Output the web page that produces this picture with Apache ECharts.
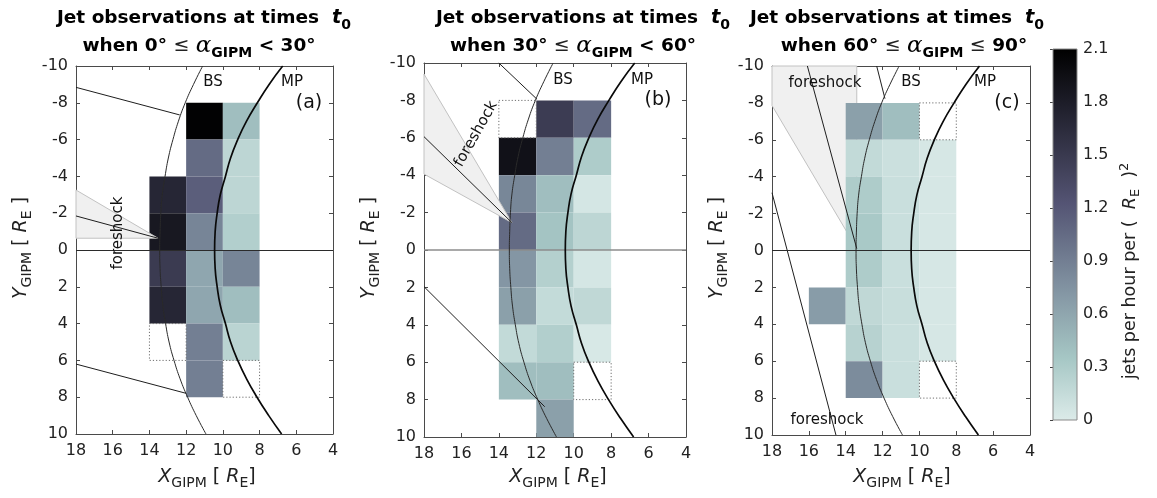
<!DOCTYPE html>
<html>
<head>
<meta charset="utf-8">
<script src="https://cdn.jsdelivr.net/npm/echarts@6/dist/echarts.min.js"></script>
<style>
  html, body { margin: 0; padding: 0; background: #fff; }
  #chart { width: 1157px; height: 498px; }
</style>
</head>
<body>
<div id="chart"></div>
<script>
// ---- Axes ----
const X_MIN = 4, X_MAX = 18, Y_MIN = -10, Y_MAX = 10, BIN = 2;
const CBAR_MIN = 0, CBAR_MAX = 2.1, CBAR_STEP = 0.3;

// ---- Jet rate per 2x2 RE bin: [bin lower X, bin lower Y, jets per hour per RE^2] ----
const cellsA = [
  [12, -4, 1.70], [12, -2, 1.85], [12, 0, 1.48], [12, 2, 1.70],
  [10, -8, 2.08], [10, -6, 1.05], [10, -4, 1.15], [10, -2, 0.85],
  [10, 0, 0.60], [10, 2, 0.60], [10, 4, 0.90], [10, 6, 0.90],
  [8, -8, 0.42], [8, -6, 0.20], [8, -4, 0.20], [8, -2, 0.27],
  [8, 0, 0.85], [8, 2, 0.42], [8, 4, 0.22]
];
const cellsB = [
  [12, -6, 1.92], [12, -4, 0.84], [12, -2, 1.05], [12, 0, 0.72],
  [12, 2, 0.65], [12, 4, 0.17], [12, 6, 0.42],
  [10, -8, 1.47], [10, -6, 0.90], [10, -4, 0.42], [10, -2, 0.37],
  [10, 0, 0.26], [10, 2, 0.16], [10, 4, 0.27], [10, 6, 0.42], [10, 8, 0.65],
  [8, -8, 1.05], [8, -6, 0.30], [8, -4, 0.05], [8, -2, 0.20],
  [8, 0, 0.05], [8, 2, 0.18], [8, 4, 0.03]
];
const cellsC = [
  [14, 2, 0.68],
  [12, -8, 0.65], [12, -6, 0.17], [12, -4, 0.30], [12, -2, 0.33],
  [12, 0, 0.30], [12, 2, 0.18], [12, 4, 0.24], [12, 6, 0.80],
  [10, -8, 0.42], [10, -6, 0.11], [10, -4, 0.12], [10, -2, 0.12],
  [10, 0, 0.12], [10, 2, 0.13], [10, 4, 0.12], [10, 6, 0.12],
  [8, -6, 0.04], [8, -4, 0.04], [8, -2, 0.04], [8, 0, 0.04],
  [8, 2, 0.04], [8, 4, 0.04]
];
// Bins that were sampled but had no jets: [bin lower X, bin lower Y]
const emptyA = [[12, 4], [8, 6]];
const emptyB = [[12, -8], [8, 6]];
const emptyC = [[8, -8], [8, 6]];

// ---- Model boundaries, [X, Y] in RE ----
const bowShock = [
  [11.10, -10], [11.60, -9], [12.05, -8], [12.42, -7], [12.72, -6], [12.97, -5],
  [13.15, -4], [13.30, -3], [13.38, -2], [13.42, -1], [13.44, 0], [13.42, 1],
  [13.36, 2], [13.27, 3], [13.12, 4], [12.93, 5], [12.66, 6], [12.33, 7],
  [11.92, 8], [11.45, 9], [10.92, 10]
];
const magnetopause = [
  [6.74, -10], [7.48, -9], [8.12, -8], [8.71, -7], [9.19, -6], [9.58, -5],
  [9.86, -4], [10.14, -3], [10.31, -2], [10.42, -1], [10.45, 0], [10.42, 1],
  [10.31, 2], [10.14, 3], [9.86, 4], [9.58, 5], [9.19, 6], [8.71, 7],
  [8.14, 8], [7.50, 9], [6.80, 10]
];

// ---- Foreshock regions and IMF lines touching the bow shock ----
const foreshockA = [[18, -3.26], [13.53, -0.64], [18, -0.64]];
const foreshockB = [[18, -9.41], [13.30, -1.46], [18, -4.06]];
const foreshockC = [[18, -10], [13.40, -10], [13.40, -0.1], [18, -7.86]];
const imfA = [[18, -1.85, 13.53, -0.64], [18, -8.84, 12.35, -7.34], [18, 6.20, 12.00, 7.79]];
const imfB = [[18, -6.06, 13.30, -1.46], [14.0, -10, 11.96, -8.06], [18, 1.96, 11.55, 8.38]];
const imfC = [[16.08, -10, 13.40, -0.1], [12.32, -10, 11.87, -8.23], [18, -3.13, 14.53, 10]];

// ---- Text ----
const angleRanges = [
  ['0°', '<', '30°'],
  ['30°', '<', '60°'],
  ['60°', '≤', '90°']
];
const panelTags = ['(a)', '(b)', '(c)'];

// Reversed bone colour scale, light (0) to black (2.1)
const CMAP = ['#dcebe9', '#c1d9d7', '#a6c7c5', '#96b0b5', '#8699a6', '#758295', '#646b84',
              '#545474', '#43435c', '#323245', '#21212e', '#111117', '#000000'];

const FONT = 'DejaVu Sans';
const AXIS_COLOR = '#4a4a4a';
const TEXT_COLOR = '#222222';

const layout = [
  { grid: { left: 76, top: 66, width: 257, height: 368 },
    title1: 204, title2: 199, xName: 207, yName: 21,
    bs: [213, 82], mp: [292, 82], tag: [309, 103] },
  { grid: { left: 424, top: 63, width: 262, height: 374 },
    title1: 583, title2: 573, xName: 558, yName: 369,
    bs: [563, 80], mp: [642, 80], tag: [658, 100] },
  { grid: { left: 772, top: 66, width: 258, height: 369 },
    title1: 897, title2: 904, xName: 902, yName: 717,
    bs: [911, 82], mp: [985, 82], tag: [1007, 103] }
];

const panels = [
  { cells: cellsA, empty: emptyA, wedge: foreshockA, imf: imfA, wedgeZ: 3, zero: { color: '#2b2b2b', width: 1 } },
  { cells: cellsB, empty: emptyB, wedge: foreshockB, imf: imfB, wedgeZ: 3, zero: { color: '#8c8c8c', width: 1.6 } },
  { cells: cellsC, empty: emptyC, wedge: foreshockC, imf: imfC, wedgeZ: 1, zero: { color: '#2b2b2b', width: 1 } }
];

function binRect(api, x0, y0) {
  const a = api.coord([x0, y0]);
  const b = api.coord([x0 + BIN, y0 + BIN]);
  return {
    x: Math.min(a[0], b[0]), y: Math.min(a[1], b[1]),
    width: Math.abs(a[0] - b[0]), height: Math.abs(a[1] - b[1])
  };
}

const grids = [], xAxes = [], yAxes = [], series = [], cellSeries = [];

function axisBase(gridIndex) {
  return {
    type: 'value', gridIndex,
    splitLine: { show: false },
    axisLine: { show: true, onZero: false, lineStyle: { color: AXIS_COLOR, width: 1 } },
    axisTick: { show: true, inside: true, length: 4, lineStyle: { color: AXIS_COLOR } }
  };
}
const tickLabel = { fontFamily: FONT, fontSize: 16, color: TEXT_COLOR };

panels.forEach((p, i) => {
  grids.push(Object.assign({ containLabel: false }, layout[i].grid));
  xAxes.push(Object.assign(axisBase(i), {
    position: 'bottom', min: X_MIN, max: X_MAX, interval: BIN, inverse: true,
    axisLabel: Object.assign({ margin: 9 }, tickLabel)
  }));
  xAxes.push(Object.assign(axisBase(i), {
    position: 'top', min: X_MIN, max: X_MAX, interval: BIN, inverse: true,
    axisLabel: { show: false }
  }));
  yAxes.push(Object.assign(axisBase(i), {
    position: 'left', min: Y_MIN, max: Y_MAX, interval: BIN, inverse: true,
    axisLabel: Object.assign({ margin: 8 }, tickLabel)
  }));
  yAxes.push(Object.assign(axisBase(i), {
    position: 'right', min: Y_MIN, max: Y_MAX, interval: BIN, inverse: true,
    axisLabel: { show: false }
  }));
  const ax = { xAxisIndex: 2 * i, yAxisIndex: 2 * i };

  // binned jet rates
  cellSeries.push(series.length);
  series.push(Object.assign({
    type: 'custom', name: 'rate' + i, z: 2, silent: true,
    data: p.cells, encode: { x: 0, y: 1 },
    renderItem: (params, api) => ({
      type: 'rect', shape: binRect(api, api.value(0), api.value(1)),
      style: { fill: api.visual('color') }
    })
  }, ax));

  // sampled bins without jets
  series.push(Object.assign({
    type: 'custom', z: 2, silent: true,
    data: p.empty, encode: { x: 0, y: 1 },
    renderItem: (params, api) => ({
      type: 'rect', shape: binRect(api, api.value(0), api.value(1)),
      style: { fill: null, stroke: '#6e6e6e', lineWidth: 1, lineDash: [1.2, 2] }
    })
  }, ax));

  // foreshock region
  series.push(Object.assign({
    type: 'custom', z: p.wedgeZ, silent: true,
    data: [p.wedge[0]], encode: { x: 0, y: 1 },
    renderItem: (params, api) => ({
      type: 'polygon',
      shape: { points: p.wedge.map(pt => api.coord(pt)) },
      style: { fill: '#f0f0f0', stroke: '#c2c2c2', lineWidth: 1 }
    })
  }, ax));

  // IMF lines
  series.push(Object.assign({
    type: 'custom', z: 4, silent: true,
    data: p.imf, encode: { x: [0, 2], y: [1, 3] },
    renderItem: (params, api) => {
      const a = api.coord([api.value(0), api.value(1)]);
      const b = api.coord([api.value(2), api.value(3)]);
      return {
        type: 'line', shape: { x1: a[0], y1: a[1], x2: b[0], y2: b[1] },
        style: { stroke: '#1e1e1e', lineWidth: 1 }
      };
    }
  }, ax));

  // bow shock, with the Y = 0 reference line
  series.push(Object.assign({
    type: 'line', z: 5, silent: true, data: bowShock,
    showSymbol: false, symbol: 'none', smooth: true,
    lineStyle: { color: '#2a2a2a', width: 1 },
    markLine: {
      silent: true, symbol: 'none', label: { show: false },
      lineStyle: { color: p.zero.color, width: p.zero.width, type: 'solid' },
      data: [{ yAxis: 0 }]
    }
  }, ax));

  // magnetopause
  series.push(Object.assign({
    type: 'line', z: 5, silent: true, data: magnetopause,
    showSymbol: false, symbol: 'none', smooth: true,
    lineStyle: { color: '#0a0a0a', width: 1.7 }
  }, ax));
});

// ---- colour bar ----
const cbGrid = grids.length;
grids.push({ left: 1053, top: 49, width: 24, height: 371, containLabel: false });
xAxes.push({ type: 'value', gridIndex: cbGrid, min: 0, max: 1, show: false });
yAxes.push({
  type: 'value', gridIndex: cbGrid, position: 'right',
  min: CBAR_MIN, max: CBAR_MAX, interval: CBAR_STEP,
  splitLine: { show: false },
  axisLine: { show: false },
  axisTick: { show: true, inside: true, length: 3, lineStyle: { color: '#444' } },
  axisLabel: Object.assign({ margin: 6, formatter: v => String(+v.toFixed(1)) }, tickLabel)
});
series.push({
  type: 'custom', xAxisIndex: 2 * panels.length, yAxisIndex: 2 * panels.length,
  z: 1, silent: true, data: [[0, CBAR_MIN, 1, CBAR_MAX]], encode: { x: [0, 2], y: [1, 3] },
  renderItem: (params, api) => {
    const a = api.coord([api.value(0), api.value(1)]);
    const b = api.coord([api.value(2), api.value(3)]);
    const stops = CMAP.map((c, k) => ({ offset: k / (CMAP.length - 1), color: c }));
    return {
      type: 'rect',
      shape: { x: a[0], y: b[1], width: b[0] - a[0], height: a[1] - b[1] },
      style: {
        fill: new echarts.graphic.LinearGradient(0, 1, 0, 0, stops),
        stroke: '#8a8a8a', lineWidth: 1
      }
    };
  }
});

// ---- text ----
const rich = {
  b:  { fontFamily: FONT, fontWeight: 'bold', fontSize: 18.5, lineHeight: 28, verticalAlign: 'middle', fill: '#000' },
  ti: { fontFamily: FONT, fontWeight: 'bold', fontStyle: 'italic', fontSize: 19.5, lineHeight: 28, verticalAlign: 'middle', fill: '#000' },
  su: { fontFamily: FONT, fontWeight: 'bold', fontSize: 14, verticalAlign: 'bottom', fill: '#000' },
  al: { fontFamily: 'DejaVu Serif', fontStyle: 'italic', fontSize: 23, lineHeight: 28, verticalAlign: 'middle', fill: '#000' },
  le: { fontFamily: FONT, fontSize: 19, lineHeight: 28, verticalAlign: 'middle', fill: '#222' },
  n:  { fontFamily: FONT, fontSize: 19, lineHeight: 26, verticalAlign: 'middle', fill: TEXT_COLOR },
  i:  { fontFamily: FONT, fontStyle: 'italic', fontSize: 19, lineHeight: 26, verticalAlign: 'middle', fill: TEXT_COLOR },
  s:  { fontFamily: FONT, fontSize: 14, verticalAlign: 'bottom', fill: TEXT_COLOR },
  cn: { fontFamily: FONT, fontSize: 17.5, lineHeight: 24, verticalAlign: 'middle', fill: TEXT_COLOR },
  ci: { fontFamily: FONT, fontStyle: 'italic', fontSize: 17.5, lineHeight: 24, verticalAlign: 'middle', fill: TEXT_COLOR },
  cs: { fontFamily: FONT, fontSize: 13, verticalAlign: 'bottom', fill: TEXT_COLOR },
  cp: { fontFamily: FONT, fontSize: 13, verticalAlign: 'top', fill: TEXT_COLOR }
};

function text(x, y, str, extra) {
  return Object.assign({
    type: 'text', x, y, z: 100, silent: true,
    style: Object.assign({ text: str, align: 'center', verticalAlign: 'middle', rich,
      fontFamily: FONT, fontSize: 15, fill: '#111' }, (extra && extra.style) || {})
  }, extra ? { rotation: extra.rotation || 0 } : {});
}

const graphics = [];
layout.forEach((L, i) => {
  const r = angleRanges[i];
  graphics.push(text(L.title1, 18, '{b|Jet observations at times  }{ti|t}{su|0}'));
  const rel2 = r[1] === '<' ? '{b| < ' + r[2] + '}' : '{b| }{le|≤}{b| ' + r[2] + '}';
  graphics.push(text(L.title2, 46, '{b|when ' + r[0] + ' }{le|≤}{b| }{al|α}{su|GIPM}' + rel2));
  graphics.push(text(L.xName, 477, '{i|X}{s|GIPM}{n| [ }{i|R}{s|E}{n|]}'));
  graphics.push(text(L.yName, 248, '{i|Y}{s|GIPM}{n| [ }{i|R}{s|E}{n| ]}', { rotation: Math.PI / 2 }));
  graphics.push(text(L.bs[0], L.bs[1], 'BS'));
  graphics.push(text(L.mp[0], L.mp[1], 'MP'));
  graphics.push(text(L.tag[0], L.tag[1], panelTags[i], { style: { fontSize: 19 } }));
});
graphics.push(text(118, 233, 'foreshock', { rotation: Math.PI / 2 }));
graphics.push(text(476, 134, 'foreshock', { rotation: 60.5 * Math.PI / 180 }));
graphics.push(text(825, 83, 'foreshock'));
graphics.push(text(827, 420, 'foreshock'));
graphics.push(text(1130, 271, '{cn|jets per hour per (  }{ci|R}{cs|E}{cn|  )}{cp|2}', { rotation: Math.PI / 2 }));

const chart = echarts.init(document.getElementById('chart'), null, { renderer: 'canvas' });
chart.setOption({
  animation: false,
  backgroundColor: '#fff',
  grid: grids,
  xAxis: xAxes,
  yAxis: yAxes,
  visualMap: {
    type: 'continuous', show: false, min: CBAR_MIN, max: CBAR_MAX,
    dimension: 2, seriesIndex: cellSeries, inRange: { color: CMAP }
  },
  series,
  graphic: graphics
});
</script>
</body>
</html>
